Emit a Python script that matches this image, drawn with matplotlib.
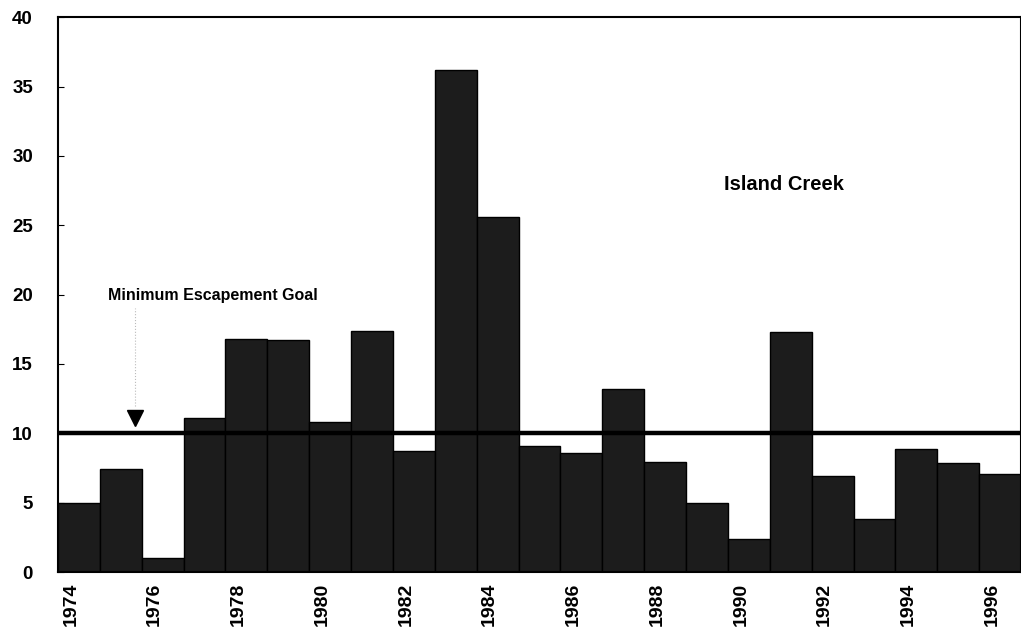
import numpy as np
import matplotlib
matplotlib.use("Agg")
import matplotlib.pyplot as plt
from matplotlib.transforms import ScaledTranslation

plt.rcParams['font.family'] = ['Liberation Sans', 'DejaVu Sans']
plt.rcParams['font.weight'] = 'bold'

years = list(range(1974, 1997))
escapement = [5.0, 7.4, 1.0, 11.1, 16.8, 16.7, 10.8, 17.4, 8.7, 36.2, 25.6,
              9.1, 8.6, 13.2, 7.9, 4.95, 2.4, 17.3, 6.9, 3.8, 8.9, 7.85, 7.1]
goal = 10
tick_years = years[::2]
yticks = [0, 5, 10, 15, 20, 25, 30, 35, 40]

fig = plt.figure(figsize=(10.21, 6.35), dpi=100)
ax = fig.add_axes([0.0568, 0.0992, 0.9432, 0.8738])

ax.bar(years, escapement, width=1.0, color='#1c1c1c', edgecolor='black', linewidth=1.0, zorder=2)
ax.axhline(goal, color='black', linewidth=3.2, zorder=3)

# arrow marker and label for the goal
ax.plot([1975.35, 1975.35], [12.0, 19.0], color='#bbbbbb', linestyle=':', linewidth=0.8, zorder=1)
ax.plot(1975.35, 11.1, marker='v', color='black', markersize=11, zorder=4)
ax.text(1974.7, 19.9, 'Minimum Escapement Goal', fontsize=11.5, fontweight='bold',
        ha='left', va='center')
ax.text(1990.85, 27.9, 'Island Creek', fontsize=14.5, fontweight='bold', ha='center', va='center')

ax.set_xlim(1973.5, 1996.5)
ax.set_ylim(0, 40)
ax.set_yticks(yticks)
ax.set_yticklabels([str(v) for v in yticks], fontsize=13.5, fontweight='bold')
ax.set_xticks(tick_years)
ax.set_xticklabels([str(y) for y in tick_years], rotation=90, fontsize=14, fontweight='bold')
ax.tick_params(axis='y', direction='in', length=4, pad=18)
ax.tick_params(axis='x', length=0, pad=8)
shift = ScaledTranslation(-0.08, 0, fig.dpi_scale_trans)
for lab in ax.get_xticklabels():
    lab.set_transform(lab.get_transform() + shift)
for s in ax.spines.values():
    s.set_linewidth(1.5)

fig.savefig('out.png', dpi=100)
